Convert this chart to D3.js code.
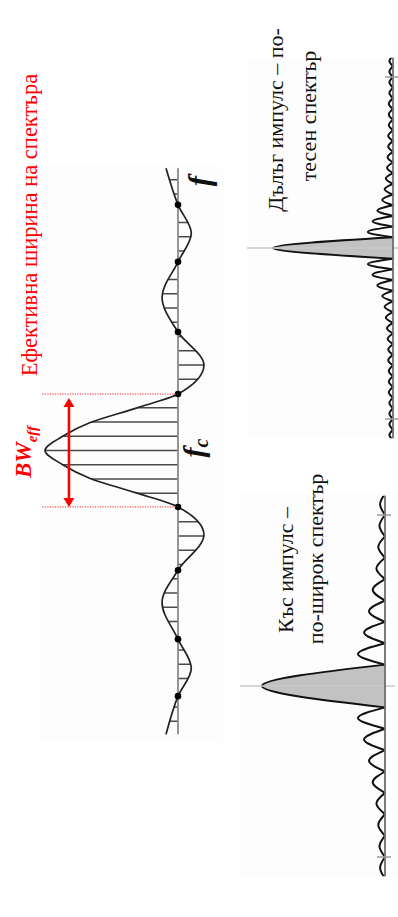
<!DOCTYPE html>
<html>
<head>
<meta charset="utf-8">
<script src="https://cdn.jsdelivr.net/npm/d3@7"></script>
<style>
  body { margin: 0; background: #fff; }
  svg { display: block; }
  text { font-family: "Liberation Serif", "DejaVu Serif", serif; }
</style>
</head>
<body>
<svg id="chart" width="398" height="917"></svg>
<script>
// main spectrum: frequency offset from fc and normalised amplitude (signed)
const mainFreq = [-4.95, -4.31, -3.81, -3.31, -2.69, -2.08, -1.5, -0.99, -0.74, -0.49, -0.245, 0,
                  0.245, 0.49, 0.74, 0.99, 1.48, 2.1, 2.67, 3.31, 3.82, 4.31, 4.98];
const mainAmp  = [0.09, 0, -0.10, 0, 0.12, 0, -0.195, 0, 0.32, 0.66, 0.87, 1,
                  0.87, 0.66, 0.32, 0, -0.195, 0, 0.12, 0, -0.10, 0, 0.09];
const sampleStep = 0.25; // spacing of the hatch samples

// |sinc| panels: peak of every side lobe, from the main lobe outwards
const longLobeWidth = 0.5;
const longSideLobes = [0.21, 0.17, 0.13, 0.09, 0.07, 0.06, 0.05, 0.045, 0.04,
                       0.04, 0.035, 0.035, 0.035, 0.03, 0.03, 0.03, 0.03, 0.03];
const shortLobeWidth = 1;
const shortSideLobes = [0.22, 0.17, 0.13, 0.10, 0.07, 0.055, 0.045, 0.04, 0.035];
const panelTicks = [-8, 8];
const panelExtent = [-8.9, 8.9];

const titleText = "Ефективна ширина на спектъра";
const longPulseLines = ["Дълъг импулс – по-", "тесен спектър"];
const shortPulseLines = ["Къс импулс –", "по-широк спектър"];

const svg = d3.select("#chart");
const defs = svg.append("defs");

// very faint panel backgrounds
svg.append("rect").attr("x", 40).attr("y", 166).attr("width", 183).attr("height", 576).attr("fill", "#fdfdfd");
svg.append("rect").attr("x", 247).attr("y", 58).attr("width", 151).attr("height", 380).attr("fill", "#fdfdfd");
svg.append("rect").attr("x", 240).attr("y", 493).attr("width", 158).attr("height", 384).attr("fill", "#fdfdfd");

// ---------- main spectrum ----------
const mainData = mainFreq.map((f, i) => ({ f, a: mainAmp[i] }));
const fy = d3.scaleLinear().domain([-5, 5]).range([165.5, 735.5]);
const ax = d3.scaleLinear().domain([0, 1]).range([178, 45]);

const mainArea = d3.area()
  .y(d => fy(d.f)).x0(ax(0)).x1(d => ax(d.a))
  .curve(d3.curveMonotoneY);
const mainLine = d3.line()
  .x(d => ax(d.a)).y(d => fy(d.f))
  .curve(d3.curveMonotoneY);

defs.append("clipPath").attr("id", "mainClip")
  .append("path").attr("d", mainArea(mainData));

const fMin = d3.min(mainFreq), fMax = d3.max(mainFreq);
const samples = d3.range(Math.ceil(fMin / sampleStep), Math.floor(fMax / sampleStep) + 1)
  .map(k => k * sampleStep);

svg.append("g").attr("clip-path", "url(#mainClip)")
  .selectAll("line").data(samples).join("line")
  .attr("x1", ax(-0.4)).attr("x2", ax(1.1))
  .attr("y1", d => fy(d)).attr("y2", d => fy(d))
  .attr("stroke", "#4a4a4a").attr("stroke-width", 1.6);

svg.append("line")
  .attr("x1", ax(0)).attr("x2", ax(0))
  .attr("y1", fy(fMin)).attr("y2", fy(fMax))
  .attr("stroke", "#8a8a8a").attr("stroke-width", 1.8);

svg.append("path").datum(mainData)
  .attr("d", mainLine)
  .attr("fill", "none").attr("stroke", "#222").attr("stroke-width", 1.7);

svg.selectAll(".zero").data(mainData.filter(d => d.a === 0)).join("circle")
  .attr("class", "zero")
  .attr("cx", ax(0)).attr("cy", d => fy(d.f)).attr("r", 3.3)
  .attr("fill", "#000");

// effective bandwidth marker (between the first zeros)
const firstZeros = [d3.max(mainFreq.filter((f, i) => mainAmp[i] === 0 && f < 0)),
                    d3.min(mainFreq.filter((f, i) => mainAmp[i] === 0 && f > 0))];
svg.selectAll(".bwline").data(firstZeros).join("line")
  .attr("class", "bwline")
  .attr("x1", ax(1.02)).attr("x2", ax(0))
  .attr("y1", d => fy(d)).attr("y2", d => fy(d))
  .attr("stroke", "#ff2020").attr("stroke-width", 1).attr("stroke-dasharray", "1.2,1.3");

const arrowX = ax(0.82);
const yTop = fy(firstZeros[0]) + 4, yBot = fy(firstZeros[1]);
svg.append("line")
  .attr("x1", arrowX).attr("x2", arrowX).attr("y1", yTop + 6).attr("y2", yBot - 6)
  .attr("stroke", "#ff0000").attr("stroke-width", 2.6);
svg.append("path")
  .attr("d", `M${arrowX},${yTop} l-5.5,9 l11,0 Z M${arrowX},${yBot} l-5.5,-9 l11,0 Z`)
  .attr("fill", "#ff0000");

// labels on the main spectrum
const bw = svg.append("text")
  .attr("transform", "translate(31,452) rotate(-90)")
  .attr("text-anchor", "middle")
  .attr("fill", "#ff0000").attr("font-weight", "bold").attr("font-style", "italic")
  .attr("font-size", 23);
bw.append("tspan").text("BW");
bw.append("tspan").attr("font-size", 15).attr("dy", 6).text("eff");

svg.append("text")
  .attr("transform", "translate(37,225) rotate(-90)")
  .attr("text-anchor", "middle")
  .attr("fill", "#ff0000").attr("font-size", 22.5)
  .text(titleText);

svg.append("text")
  .attr("transform", "translate(210,181) rotate(-90)")
  .attr("text-anchor", "middle")
  .attr("font-weight", "bold").attr("font-style", "italic").attr("font-size", 31)
  .attr("fill", "#111")
  .text("f");

const fc = svg.append("text")
  .attr("transform", "translate(204,448) rotate(-90)")
  .attr("text-anchor", "middle")
  .attr("font-weight", "bold").attr("font-style", "italic").attr("font-size", 30)
  .attr("fill", "#111");
fc.append("tspan").text("f");
fc.append("tspan").attr("font-size", 20).attr("dy", 4).text("c");

// ---------- |sinc| panels ----------
function drawPanel(opt) {
  const g = svg.append("g");
  const py = d3.scaleLinear().domain([-8, 8]).range([opt.cy + 171, opt.cy - 171]);
  const px = d3.scaleLinear().domain([0, 1]).range([opt.axisX, opt.axisX - opt.peakPx]);
  const w = opt.lobeWidth;

  const clipId = "clip" + opt.id;
  defs.append("clipPath").attr("id", clipId).append("rect")
    .attr("x", 0).attr("width", 398)
    .attr("y", py(panelExtent[1])).attr("height", py(panelExtent[0]) - py(panelExtent[1]));

  const lobes = [[{ f: -w, a: 0 }, { f: 0, a: 1 }, { f: w, a: 0 }]];
  opt.sideLobes.forEach((a, i) => {
    const n = i + 1;
    lobes.push([{ f: n * w, a: 0 }, { f: (n + 0.5) * w, a }, { f: (n + 1) * w, a: 0 }]);
    lobes.push([{ f: -(n + 1) * w, a: 0 }, { f: -(n + 0.5) * w, a }, { f: -n * w, a: 0 }]);
  });

  const line = d3.line().x(d => px(d.a)).y(d => py(d.f)).curve(d3.curveNatural);
  const area = d3.area().y(d => py(d.f)).x0(px(0)).x1(d => px(d.a)).curve(d3.curveNatural);

  const inner = g.append("g").attr("clip-path", `url(#${clipId})`);
  inner.append("path").attr("d", area(lobes[0])).attr("fill", "#c2c2c2");
  inner.selectAll(".lobe").data(lobes).join("path")
    .attr("class", "lobe")
    .attr("d", line)
    .attr("fill", "none").attr("stroke", "#111").attr("stroke-width", 2);

  // centre line and axis
  g.append("line")
    .attr("x1", opt.lineX0).attr("x2", opt.lineX1)
    .attr("y1", py(0)).attr("y2", py(0))
    .attr("stroke", "#c8c8c8").attr("stroke-width", 1.6);
  g.append("line")
    .attr("x1", px(0)).attr("x2", px(0))
    .attr("y1", py(panelExtent[0])).attr("y2", py(panelExtent[1]))
    .attr("stroke", "#6e6e6e").attr("stroke-width", 1.8);
  g.selectAll(".tick").data(panelTicks).join("line")
    .attr("class", "tick")
    .attr("x1", px(0) - 8).attr("x2", px(0) + 6)
    .attr("y1", d => py(d)).attr("y2", d => py(d))
    .attr("stroke", "#999").attr("stroke-width", 1.5);

  opt.lines.forEach((t, i) => {
    svg.append("text")
      .attr("transform", `translate(${opt.textX[i]},${opt.textY[i]}) rotate(-90)`)
      .attr("text-anchor", "middle").attr("font-size", 22).attr("fill", "#111")
      .text(t);
  });
}

drawPanel({
  id: "long", axisX: 393, cy: 248, peakPx: 120, lobeWidth: longLobeWidth,
  sideLobes: longSideLobes, lineX0: 247, lineX1: 398,
  lines: longPulseLines, textX: [283, 316], textY: [120, 116]
});
drawPanel({
  id: "short", axisX: 385, cy: 686, peakPx: 123, lobeWidth: shortLobeWidth,
  sideLobes: shortSideLobes, lineX0: 240, lineX1: 395,
  lines: shortPulseLines, textX: [293, 323], textY: [570, 559]
});
</script>
</body>
</html>
